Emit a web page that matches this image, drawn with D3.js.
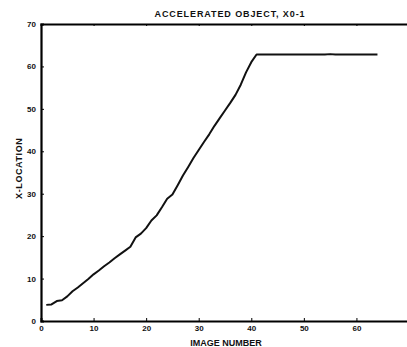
<!doctype html>
<html lang="en">
<head>
<meta charset="utf-8">
<title>Accelerated object</title>
<script src="https://cdn.jsdelivr.net/npm/d3@7"></script>
<style>
  body { margin: 0; background: #fff; }
  text { font-family: "Liberation Sans", Arial, sans-serif; font-weight: bold; fill: #111; }
</style>
</head>
<body>
<div id="chart"></div>
<script>
// image number (1..64) and measured x-location
var imageNumbers = d3.range(1, 65);
var xLocation = [
  3.8, 3.9, 4.7, 4.9, 5.8, 7.0, 7.9, 8.9, 9.9, 11.0,
  11.9, 12.9, 13.8, 14.8, 15.7, 16.6, 17.5, 19.7, 20.6, 21.9,
  23.7, 24.9, 26.8, 28.8, 29.8, 32.0, 34.3, 36.3, 38.4, 40.3,
  42.2, 44.0, 46.0, 47.8, 49.6, 51.4, 53.3, 55.7, 58.6, 61.0,
  62.8, 62.8, 62.8, 62.8, 62.8, 62.8, 62.8, 62.8, 62.8, 62.8,
  62.8, 62.8, 62.8, 62.8, 62.9, 62.8, 62.8, 62.8, 62.8, 62.8,
  62.8, 62.8, 62.8, 62.8
];
var xTicks = [0, 10, 20, 30, 40, 50, 60];
var yTicks = [0, 10, 20, 30, 40, 50, 60, 70];

var W = 407, H = 347;
var margin = {top: 24, right: -2, bottom: 26, left: 41};
var width = W - margin.left - margin.right,
    height = H - margin.top - margin.bottom;

var x = d3.scaleLinear().domain([0, 70]).range([0, width]);
var y = d3.scaleLinear().domain([0, 70]).range([height, 0]);

var svg = d3.select("#chart").append("svg")
    .attr("width", W)
    .attr("height", H);

var g = svg.append("g")
    .attr("transform", "translate(" + margin.left + "," + margin.top + ")");

// axes
var xAxis = d3.axisBottom(x).tickValues(xTicks).tickSize(-3).tickPadding(6);
var yAxis = d3.axisLeft(y).tickValues(yTicks).tickSize(-3).tickPadding(5);

g.append("g")
    .attr("transform", "translate(0," + height + ")")
    .call(xAxis)
    .call(function(s) {
      s.select(".domain").attr("stroke-width", 2);
      s.selectAll("text").attr("font-size", 8).attr("dy", "0.5em");
    });

g.append("g")
    .call(yAxis)
    .call(function(s) {
      s.select(".domain").attr("stroke-width", 2.2);
      s.selectAll("text").attr("font-size", 8);
    });

// top border with small ticks
g.append("g")
    .call(d3.axisTop(x).tickValues(xTicks).tickSize(-2).tickFormat(""))
    .call(function(s) { s.select(".domain").attr("stroke-width", 2); });

// the curve
var line = d3.line()
    .x(function(d, i) { return x(imageNumbers[i]); })
    .y(function(d) { return y(d); });

g.append("path")
    .datum(xLocation)
    .attr("fill", "none")
    .attr("stroke", "#111")
    .attr("stroke-width", 2)
    .attr("stroke-linejoin", "round")
    .attr("d", line);

// title and labels
svg.append("text")
    .attr("x", 230)
    .attr("y", 17)
    .attr("text-anchor", "middle")
    .attr("font-size", 9)
    .attr("letter-spacing", 0.9)
    .text("ACCELERATED OBJECT,  X0-1");

svg.append("text")
    .attr("x", 226)
    .attr("y", 346)
    .attr("text-anchor", "middle")
    .attr("font-size", 9)
    .text("IMAGE NUMBER");

svg.append("text")
    .attr("transform", "translate(22," + (margin.top + y(36)) + ") rotate(-90)")
    .attr("text-anchor", "middle")
    .attr("font-size", 9)
    .attr("letter-spacing", 0.6)
    .text("X-LOCATION");
</script>
</body>
</html>
